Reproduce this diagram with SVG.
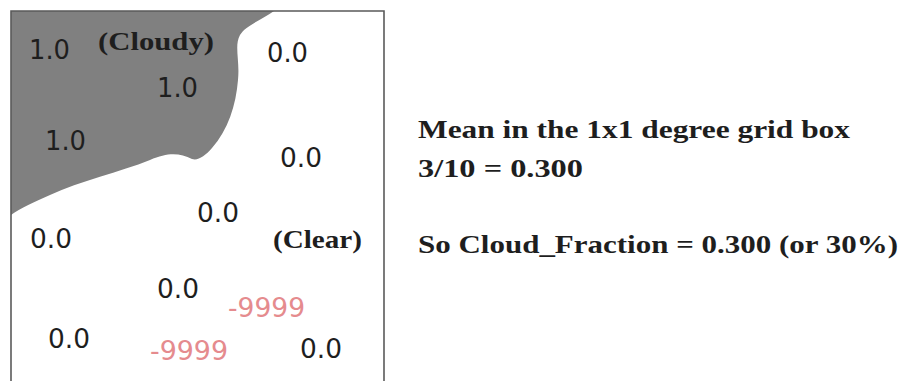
<svg xmlns="http://www.w3.org/2000/svg" width="902" height="381" viewBox="0 0 902 381">
<style>
.n{font-family:"DejaVu Sans",Verdana,sans-serif;font-size:26px;fill:#1e1e1e}
.m{font-family:"DejaVu Sans",Verdana,sans-serif;font-size:26px;fill:#e58b8e}
.s{font-family:"Liberation Serif","Times New Roman",serif;font-size:25px;font-weight:bold;fill:#1e1e1e}
</style>
<rect x="0" y="0" width="902" height="381" fill="#ffffff"/>
<g id="cloud">
<path d="M11,11 L274,11 C262,20 246,25 240,35 C234,46 240,60 238,80 C236,105 228,130 212,148 C205,156 198,161 192,159 C180,153 168,152 150,160 C120,172 80,181 50,195 C35,202 20,208 11,215 Z" fill="#808080"/>
</g>
<g id="frame" fill="none" stroke="#5a5a5a" stroke-width="1.6">
<path d="M11,381 L11,11 L384,11 L384,381"/>
</g>
<g id="values">
<text class="n" x="29" y="59" textLength="41" lengthAdjust="spacingAndGlyphs">1.0</text>
<text class="n" x="267" y="62" textLength="41" lengthAdjust="spacingAndGlyphs">0.0</text>
<text class="n" x="157" y="97" textLength="41" lengthAdjust="spacingAndGlyphs">1.0</text>
<text class="n" x="45" y="150" textLength="41" lengthAdjust="spacingAndGlyphs">1.0</text>
<text class="n" x="280" y="167" textLength="42" lengthAdjust="spacingAndGlyphs">0.0</text>
<text class="n" x="197" y="222" textLength="42" lengthAdjust="spacingAndGlyphs">0.0</text>
<text class="n" x="30" y="248" textLength="42" lengthAdjust="spacingAndGlyphs">0.0</text>
<text class="n" x="157" y="298" textLength="42" lengthAdjust="spacingAndGlyphs">0.0</text>
<text class="m" x="228" y="317" textLength="77" lengthAdjust="spacingAndGlyphs">-9999</text>
<text class="n" x="48" y="348" textLength="42" lengthAdjust="spacingAndGlyphs">0.0</text>
<text class="m" x="150" y="360" textLength="78" lengthAdjust="spacingAndGlyphs">-9999</text>
<text class="n" x="300" y="358" textLength="42" lengthAdjust="spacingAndGlyphs">0.0</text>
</g>
<g id="labels">
<text class="s" x="98" y="50" textLength="116" lengthAdjust="spacingAndGlyphs">(Cloudy)</text>
<text class="s" x="273" y="248" textLength="89" lengthAdjust="spacingAndGlyphs">(Clear)</text>
</g>
<g id="explanation">
<text class="s" x="418" y="138" textLength="432" lengthAdjust="spacingAndGlyphs">Mean in the 1x1 degree grid box</text>
<text class="s" x="418" y="177" textLength="165" lengthAdjust="spacingAndGlyphs">3/10 = 0.300</text>
<text class="s" x="418" y="253" textLength="480" lengthAdjust="spacingAndGlyphs">So Cloud_Fraction = 0.300 (or 30%)</text>
</g>
</svg>
